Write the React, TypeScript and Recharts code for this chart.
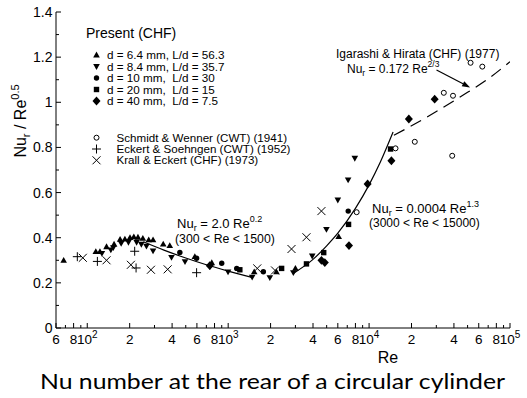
import React from 'react';
import { ScatterChart, Scatter, XAxis, YAxis, ReferenceLine } from 'recharts';

const FONT = '"Liberation Sans", Arial, sans-serif';

// axis ticks (log x, linear y)
const xTicks = [
  60, 70, 80, 90, 100, 200, 300, 400, 500, 600, 700, 800, 900, 1000, 2000, 3000, 4000, 5000,
  6000, 7000, 8000, 9000, 10000, 20000, 30000, 40000, 50000, 60000, 70000, 80000, 90000, 100000,
];
const yTicks = [0, 0.1, 0.2, 0.3, 0.4, 0.5, 0.6, 0.7, 0.8, 0.9, 1, 1.1, 1.2, 1.3, 1.4];

// Present (CHF)
const d64 = [
  { re: 68, v: 0.3 }, { re: 115, v: 0.338 }, { re: 123, v: 0.338 }, { re: 137, v: 0.36 },
  { re: 155, v: 0.371 }, { re: 171, v: 0.393 }, { re: 185, v: 0.394 }, { re: 201, v: 0.4 },
  { re: 214, v: 0.404 }, { re: 229, v: 0.402 }, { re: 248, v: 0.397 }, { re: 273, v: 0.39 },
  { re: 293, v: 0.39 }, { re: 346, v: 0.372 }, { re: 385, v: 0.365 }, { re: 580, v: 0.316 },
  { re: 765, v: 0.289 }, { re: 1530, v: 0.249 }, { re: 2200, v: 0.249 }, { re: 3000, v: 0.264 },
  { re: 6085, v: 0.405 },
];
const d84 = [
  { re: 127, v: 0.331 }, { re: 147, v: 0.346 }, { re: 153, v: 0.356 }, { re: 174, v: 0.375 },
  { re: 196, v: 0.38 }, { re: 224, v: 0.38 }, { re: 242, v: 0.371 }, { re: 263, v: 0.363 },
  { re: 293, v: 0.342 }, { re: 396, v: 0.313 }, { re: 494, v: 0.294 }, { re: 742, v: 0.272 },
  { re: 998, v: 0.249 }, { re: 1480, v: 0.225 }, { re: 1975, v: 0.223 }, { re: 2900, v: 0.245 },
  { re: 3950, v: 0.319 }, { re: 4980, v: 0.437 }, { re: 6000, v: 0.567 }, { re: 7100, v: 0.656 },
  { re: 7920, v: 0.752 },
];
const d10 = [
  { re: 454, v: 0.335 }, { re: 597, v: 0.309 }, { re: 900, v: 0.287 }, { re: 1150, v: 0.264 },
  { re: 1777, v: 0.249 }, { re: 7110, v: 0.518 },
];
const d20 = [
  { re: 1210, v: 0.258 }, { re: 2395, v: 0.264 }, { re: 3594, v: 0.284 }, { re: 4765, v: 0.334 },
  { re: 7150, v: 0.459 }, { re: 14200, v: 0.793 },
];
const d40 = [
  { re: 740, v: 0.276 }, { re: 4590, v: 0.3 }, { re: 4850, v: 0.29 }, { re: 7200, v: 0.365 },
  { re: 9760, v: 0.638 }, { re: 14400, v: 0.741 }, { re: 19150, v: 0.926 }, { re: 29200, v: 1.014 },
];

// earlier studies
const schmidt = [
  { re: 8160, v: 0.513 }, { re: 15400, v: 0.796 }, { re: 21100, v: 0.825 }, { re: 33900, v: 1.042 },
  { re: 38900, v: 0.763 }, { re: 39400, v: 1.029 }, { re: 52500, v: 1.175 }, { re: 63600, v: 1.158 },
];
const eckert = [
  { re: 85, v: 0.316 }, { re: 118, v: 0.295 }, { re: 217, v: 0.34 }, { re: 222, v: 0.266 },
  { re: 597, v: 0.245 },
];
const krall = [
  { re: 93, v: 0.311 }, { re: 137, v: 0.3 }, { re: 204, v: 0.28 }, { re: 283, v: 0.258 },
  { re: 372, v: 0.26 }, { re: 1608, v: 0.264 }, { re: 2150, v: 0.255 }, { re: 2815, v: 0.35 },
  { re: 3594, v: 0.402 }, { re: 4590, v: 0.518 },
];

// correlation curves
const fitLow = [
  { re: 250, v: 0.382 }, { re: 350, v: 0.345 }, { re: 500, v: 0.31 }, { re: 700, v: 0.28 },
  { re: 1000, v: 0.252 }, { re: 1500, v: 0.223 },
];
const fitMid = [
  { re: 2900, v: 0.242 }, { re: 4000, v: 0.304 }, { re: 5000, v: 0.364 }, { re: 6000, v: 0.42 },
  { re: 8000, v: 0.53 }, { re: 10000, v: 0.634 }, { re: 12000, v: 0.734 }, { re: 14800, v: 0.868 },
];
const fitHigh = [
  { re: 15000, v: 0.854 }, { re: 20000, v: 0.896 }, { re: 30000, v: 0.959 }, { re: 50000, v: 1.044 },
  { re: 70000, v: 1.104 }, { re: 100000, v: 1.18 },
];
const arrowSeg = [{ x: 30100, y: 1.143 }, { x: 52100, y: 1.066 }];

const Mark = ({ kind, cx, cy }: { kind: string; cx: number; cy: number }) => {
  switch (kind) {
    case 'up':
      return <polygon points={`${cx},${cy - 3.4} ${cx + 3.3},${cy + 2.4} ${cx - 3.3},${cy + 2.4}`} fill="#000" />;
    case 'down':
      return <polygon points={`${cx},${cy + 3.4} ${cx + 3.3},${cy - 2.4} ${cx - 3.3},${cy - 2.4}`} fill="#000" />;
    case 'dot':
      return <circle cx={cx} cy={cy} r={2.7} fill="#000" />;
    case 'square':
      return <rect x={cx - 2.7} y={cy - 2.7} width={5.4} height={5.4} fill="#000" />;
    case 'diamond':
      return <polygon points={`${cx},${cy - 4.4} ${cx + 4},${cy} ${cx},${cy + 4.4} ${cx - 4},${cy}`} fill="#000" />;
    case 'open':
      return <circle cx={cx} cy={cy} r={2.5} fill="#fff" stroke="#000" strokeWidth={1} />;
    case 'plus':
      return <path d={`M${cx - 4.5},${cy}H${cx + 4.5}M${cx},${cy - 4.5}V${cy + 4.5}`} stroke="#000" strokeWidth={1} />;
    case 'cross':
      return <path d={`M${cx - 4},${cy - 4}L${cx + 4},${cy + 4}M${cx - 4},${cy + 4}L${cx + 4},${cy - 4}`} stroke="#000" strokeWidth={1} />;
    default:
      return <g />;
  }
};

const shapeOf = (kind: string) => (p: any) => <Mark kind={kind} cx={p.cx} cy={p.cy} />;

const xLabel = (v: number) => {
  const e = Math.floor(Math.log10(v) + 1e-9);
  const m = Math.round(v / Math.pow(10, e));
  if (m === 1) return { base: '10', exp: String(e) };
  if (m % 2 === 0) return { base: String(m), exp: '' };
  return null;
};

const BottomTick = ({ x, y, payload }: any) => {
  const lab = xLabel(payload.value);
  return (
    <g>
      <line x1={x} x2={x} y1={y} y2={y - (lab ? 5 : 3)} stroke="#000" />
      {lab && (
        <text x={x} y={y + 16} textAnchor="middle" fontSize={13.5} fontFamily={FONT} fill="#000">
          {lab.base}
          {lab.exp && <tspan dy={-6} fontSize={10}>{lab.exp}</tspan>}
        </text>
      )}
    </g>
  );
};

const TopTick = ({ x, y, payload }: any) => (
  <line x1={x} x2={x} y1={y} y2={y + (xLabel(payload.value) ? 5 : 3)} stroke="#000" />
);

const isMajorY = (v: number) => Math.round(v * 10) % 2 === 0;

const LeftTick = ({ x, y, payload }: any) => {
  const v = payload.value;
  return (
    <g>
      <line x1={x} x2={x + (isMajorY(v) ? 5 : 3)} y1={y} y2={y} stroke="#000" />
      {isMajorY(v) && (
        <text x={x - 3.5} y={y + 5} textAnchor="end" fontSize={14} fontFamily={FONT} fill="#000">
          {String(Math.round(v * 10) / 10)}
        </text>
      )}
    </g>
  );
};

const RightTick = ({ x, y, payload }: any) => (
  <line x1={x} x2={x - (isMajorY(payload.value) ? 5 : 3)} y1={y} y2={y} stroke="#000" />
);

const Arrow = (p: any) => {
  const { x1, y1, x2, y2 } = p;
  if ([x1, y1, x2, y2].some((n) => typeof n !== 'number' || isNaN(n))) return <g />;
  const a = Math.atan2(y2 - y1, x2 - x1);
  const L = 8;
  const W = 2.8;
  const bx = x2 - L * Math.cos(a);
  const by = y2 - L * Math.sin(a);
  const px = -Math.sin(a) * W;
  const py = Math.cos(a) * W;
  return (
    <g>
      <line x1={x1} y1={y1} x2={bx} y2={by} stroke="#000" strokeWidth={1.2} />
      <polygon points={`${x2},${y2} ${bx + px},${by + py} ${bx - px},${by - py}`} fill="#000" />
    </g>
  );
};

const present = [
  { kind: 'up', label: 'd = 6.4 mm, L/d = 56.3' },
  { kind: 'down', label: 'd = 8.4 mm, L/d = 35.7' },
  { kind: 'dot', label: 'd = 10 mm,  L/d = 30' },
  { kind: 'square', label: 'd = 20 mm,  L/d = 15' },
  { kind: 'diamond', label: 'd = 40 mm,  L/d = 7.5' },
];
const others = [
  { kind: 'open', label: 'Schmidt & Wenner (CWT) (1941)' },
  { kind: 'plus', label: 'Eckert & Soehngen (CWT) (1952)' },
  { kind: 'cross', label: 'Krall & Eckert (CHF) (1973)' },
];

const Overlay = () => (
  <svg
    width={527}
    height={398}
    style={{ position: 'absolute', left: 0, top: 0, pointerEvents: 'none' }}
    fontFamily={FONT}
    fill="#000"
  >
    {/* legend */}
    <text x={86} y={38} fontSize={14}>Present (CHF)</text>
    {present.map((r, i) => (
      <g key={r.label}>
        <Mark kind={r.kind} cx={96.5} cy={55 + i * 11.5} />
        <text x={107} y={59.2 + i * 11.5} fontSize={11.7} style={{ whiteSpace: 'pre' }}>{r.label}</text>
      </g>
    ))}
    {others.map((r, i) => (
      <g key={r.label}>
        <Mark kind={r.kind} cx={96.5} cy={137.7 + i * 11.3} />
        <text x={116.5} y={141.8 + i * 11.3} fontSize={11.6}>{r.label}</text>
      </g>
    ))}

    {/* correlation notes */}
    <text x={177} y={228} fontSize={13}>
      Nu<tspan dy={3} fontSize={9}>r</tspan>
      <tspan dy={-3}> = 2.0 Re</tspan>
      <tspan dy={-6} fontSize={9}>0.2</tspan>
    </text>
    <text x={175} y={243} fontSize={12.3}>(300 &lt; Re &lt; 1500)</text>

    <text x={372} y={212.5} fontSize={13}>
      Nu<tspan dy={3} fontSize={9}>r</tspan>
      <tspan dy={-3}> = 0.0004 Re</tspan>
      <tspan dy={-6} fontSize={9}>1.3</tspan>
    </text>
    <text x={369} y={227} fontSize={12}>(3000 &lt; Re &lt; 15000)</text>

    <text x={336} y={57.5} fontSize={12}>Igarashi &amp; Hirata (CHF) (1977)</text>
    <text x={347} y={72.7} fontSize={12}>
      Nu<tspan dy={3} fontSize={8.5}>r</tspan>
      <tspan dy={-3}> = 0.172 Re</tspan>
      <tspan dy={-6} fontSize={8.5}>2/3</tspan>
    </text>

    {/* axis titles */}
    <text x={388} y={363} fontSize={16} textAnchor="middle">Re</text>
    <text transform="translate(26,121) rotate(-90)" fontSize={16} textAnchor="middle">
      Nu<tspan dy={4} fontSize={11}>r</tspan>
      <tspan dy={-4}> / Re</tspan>
      <tspan dy={-7} fontSize={11}>0.5</tspan>
    </text>

    {/* caption */}
    <text x={40} y={389} fontSize={22} fontFamily="Lato, 'Open Sans', sans-serif" textLength={465} lengthAdjust="spacingAndGlyphs">
      Nu number at the rear of a circular cylinder
    </text>
  </svg>
);

const App: React.FC = () => (
  <div style={{ position: 'absolute', left: 0, top: 0, width: 527, height: 398, background: '#fff' }}>
    <ScatterChart width={527} height={398} margin={{ top: 12, right: 17, bottom: 53, left: 0 }}>
      <XAxis
        xAxisId="main"
        dataKey="re"
        type="number"
        scale="log"
        domain={[60, 100000]}
        allowDataOverflow
        ticks={xTicks}
        interval={0}
        height={17}
        tickSize={0}
        tickMargin={0}
        tickLine={false}
        tick={<BottomTick />}
        axisLine={{ stroke: '#000' }}
      />
      <XAxis
        xAxisId="top"
        orientation="top"
        dataKey="re"
        type="number"
        scale="log"
        domain={[60, 100000]}
        allowDataOverflow
        ticks={xTicks}
        interval={0}
        height={0}
        tickSize={0}
        tickMargin={0}
        tickLine={false}
        tick={<TopTick />}
        axisLine={{ stroke: '#000' }}
      />
      <YAxis
        yAxisId="main"
        dataKey="v"
        type="number"
        domain={[0, 1.4]}
        allowDataOverflow
        ticks={yTicks}
        interval={0}
        width={56}
        tickSize={0}
        tickMargin={0}
        tickLine={false}
        tick={<LeftTick />}
        axisLine={{ stroke: '#000' }}
      />
      <YAxis
        yAxisId="right"
        orientation="right"
        dataKey="v"
        type="number"
        domain={[0, 1.4]}
        allowDataOverflow
        ticks={yTicks}
        interval={0}
        width={0}
        tickSize={0}
        tickMargin={0}
        tickLine={false}
        tick={<RightTick />}
        axisLine={{ stroke: '#000' }}
      />

      <Scatter xAxisId="top" yAxisId="right" data={schmidt} shape={() => <g />} isAnimationActive={false} />

      <Scatter xAxisId="main" yAxisId="main" data={fitLow} shape={() => <g />} line={{ stroke: '#000', strokeWidth: 1.2 }} lineJointType="monotoneX" isAnimationActive={false} />
      <Scatter xAxisId="main" yAxisId="main" data={fitMid} shape={() => <g />} line={{ stroke: '#000', strokeWidth: 1.2 }} lineJointType="monotoneX" isAnimationActive={false} />
      <Scatter xAxisId="main" yAxisId="main" data={fitHigh} shape={() => <g />} line={{ stroke: '#000', strokeWidth: 1.2, strokeDasharray: '12 7' }} lineJointType="monotoneX" isAnimationActive={false} />

      <Scatter xAxisId="main" yAxisId="main" data={d64} shape={shapeOf('up')} isAnimationActive={false} />
      <Scatter xAxisId="main" yAxisId="main" data={d84} shape={shapeOf('down')} isAnimationActive={false} />
      <Scatter xAxisId="main" yAxisId="main" data={d10} shape={shapeOf('dot')} isAnimationActive={false} />
      <Scatter xAxisId="main" yAxisId="main" data={d20} shape={shapeOf('square')} isAnimationActive={false} />
      <Scatter xAxisId="main" yAxisId="main" data={d40} shape={shapeOf('diamond')} isAnimationActive={false} />
      <Scatter xAxisId="main" yAxisId="main" data={schmidt} shape={shapeOf('open')} isAnimationActive={false} />
      <Scatter xAxisId="main" yAxisId="main" data={eckert} shape={shapeOf('plus')} isAnimationActive={false} />
      <Scatter xAxisId="main" yAxisId="main" data={krall} shape={shapeOf('cross')} isAnimationActive={false} />

      <ReferenceLine xAxisId="main" yAxisId="main" segment={arrowSeg} ifOverflow="visible" shape={(p: any) => <Arrow {...p} />} />
    </ScatterChart>
    <Overlay />
  </div>
);

export default App;
